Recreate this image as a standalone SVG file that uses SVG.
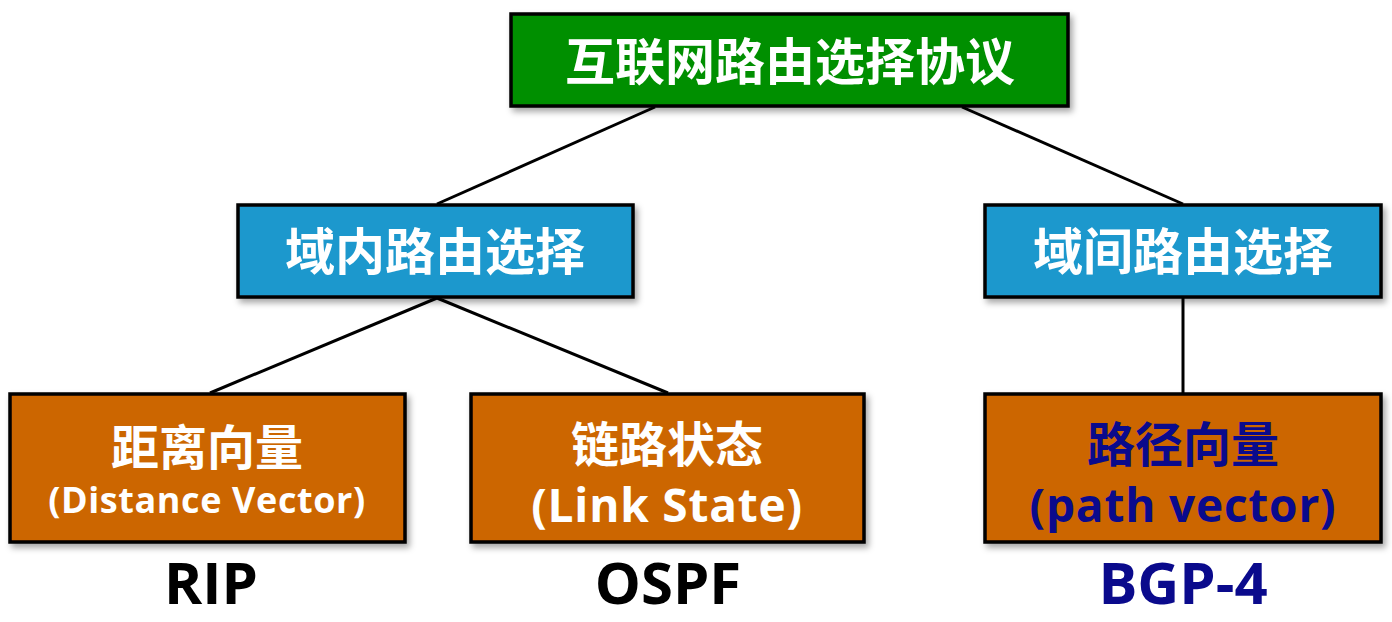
<svg xmlns="http://www.w3.org/2000/svg" width="1392" height="622" viewBox="0 0 1392 622">
<style>
.box{stroke:#000;stroke-width:3.5;filter:url(#sh)}
.g{fill:#008F00}
.b{fill:#1E98CD}
.o{fill:#CC6600}
.t{font-family:"Open Sans","Noto Sans CJK SC",sans-serif;font-weight:bold;text-anchor:middle}
.w{fill:#fff}
.n{fill:#0A0A8C}
.k{fill:#000}
.c{stroke:#000;stroke-width:3;fill:none}
</style>
<defs>
<filter id="sh" x="-10%" y="-10%" width="120%" height="130%">
<feDropShadow dx="3" dy="4" stdDeviation="3" flood-color="#000" flood-opacity="0.35"/>
</filter>
</defs>
<rect width="1392" height="622" fill="#fff"/>
<g id="connectors">
<line class="c" x1="655" y1="107" x2="437" y2="204"/>
<line class="c" x1="962" y1="107" x2="1183" y2="204"/>
<line class="c" x1="437" y1="298" x2="210" y2="393"/>
<line class="c" x1="437" y1="298" x2="668" y2="393"/>
<line class="c" x1="1183" y1="298" x2="1183" y2="393"/>
</g>
<g id="root">
<rect class="box g" x="511" y="14" width="557" height="92"/>
<text class="t w" x="790" y="80" font-size="50">互联网路由选择协议</text>
</g>
<g id="intra">
<rect class="box b" x="238" y="205" width="395" height="92"/>
<text class="t w" x="435" y="270" font-size="50">域内路由选择</text>
</g>
<g id="inter">
<rect class="box b" x="985" y="205" width="396" height="92"/>
<text class="t w" x="1183" y="270" font-size="50">域间路由选择</text>
</g>
<g id="dv">
<rect class="box o" x="10" y="394" width="395" height="148"/>
<text class="t w" x="207" y="465" font-size="48">距离向量</text>
<text class="t w" x="207" y="513" font-size="36" letter-spacing="0.6">(Distance Vector)</text>
</g>
<g id="ls">
<rect class="box o" x="471" y="394" width="393" height="148"/>
<text class="t w" x="667" y="462" font-size="48">链路状态</text>
<text class="t w" x="667" y="522" font-size="46" letter-spacing="0.8">(Link State)</text>
</g>
<g id="pv">
<rect class="box o" x="985" y="394" width="396" height="148"/>
<text class="t n" x="1183" y="462" font-size="48">路径向量</text>
<text class="t n" x="1183" y="522" font-size="46" letter-spacing="0.8">(path vector)</text>
</g>
<g id="labels">
<text class="t k" x="211" y="604" font-size="58">RIP</text>
<text class="t k" x="668" y="604" font-size="58">OSPF</text>
<text class="t n" x="1183" y="604" font-size="58">BGP-4</text>
</g>
</svg>
